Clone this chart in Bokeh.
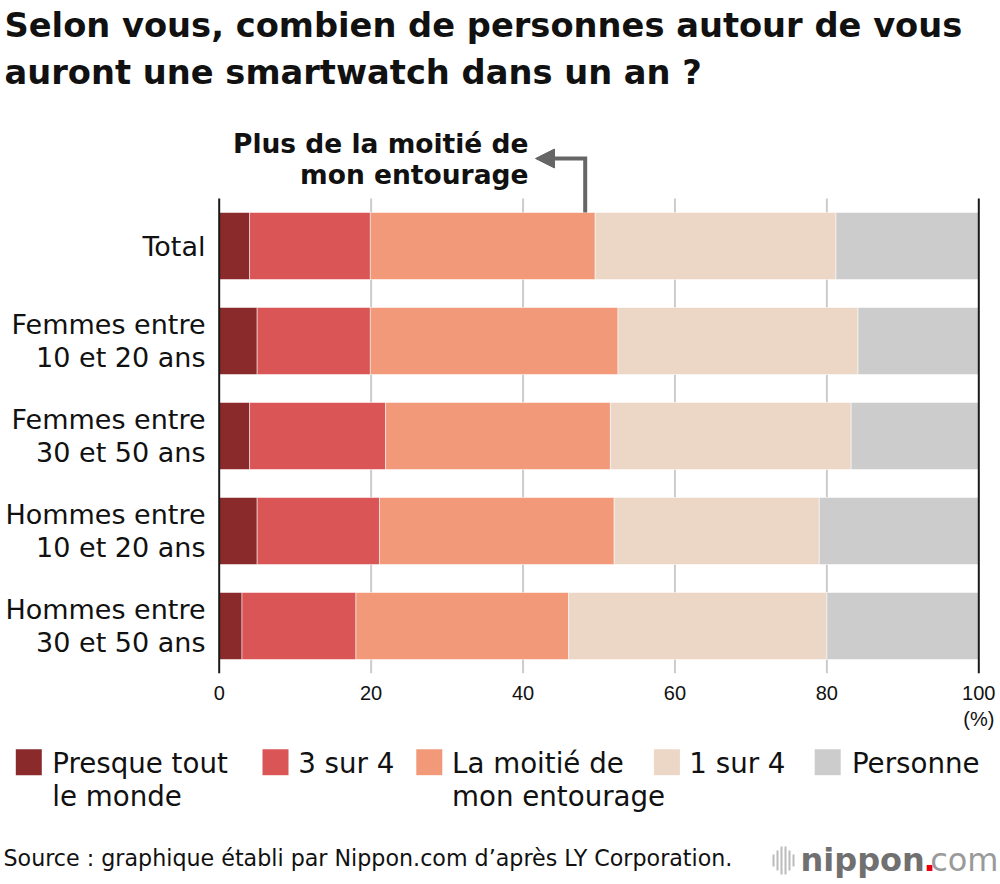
from bokeh.plotting import figure
from bokeh.models import Range1d, FixedTicker, ColumnDataSource
from bokeh.layouts import column
from bokeh.embed import file_html
from bokeh.resources import INLINE
from bokeh.core.properties import value

# ---------------- data ----------------
categories = ["Total",
              "Femmes entre\n10 et 20 ans",
              "Femmes entre\n30 et 50 ans",
              "Hommes entre\n10 et 20 ans",
              "Hommes entre\n30 et 50 ans"]
series_names = ["Presque tout\nle monde", "3 sur 4", "La moitié de\nmon entourage", "1 sur 4", "Personne"]
presque_tout = [4.0, 5.0, 4.0, 5.0, 3.0]
trois_sur_quatre = [15.9, 14.9, 17.9, 16.1, 15.0]
la_moitie = [29.6, 32.6, 29.6, 30.9, 28.0]
un_sur_quatre = [31.7, 31.6, 31.7, 27.0, 34.0]
personne = [18.8, 15.9, 16.8, 21.0, 20.0]
colors = ["#8B2A2B", "#D95556", "#F2997A", "#ECD6C6", "#CCCCCC"]
x_ticks = [0, 20, 40, 60, 80, 100]
x_tick_labels = ["0", "20", "40", "60", "80", "100\n(%)"]
title_lines = ["Selon vous, combien de personnes autour de vous",
               "auront une smartwatch dans un an ?"]
annotation_lines = ["Plus de la moitié de", "mon entourage"]
source_text = "Source : graphique établi par Nippon.com d\u2019après LY Corporation."

# ---------------- layout helpers (canvas pixel -> data) ----------------
FONT = "DejaVu Sans"
TICK_FONT = "Liberation Sans"
W = 1000
B = 62
FRAME_BOTTOM = 673
H1 = FRAME_BOTTOM + B
X0, XS = 218.7, 7.596
Y0, YS = 245.5, 95.0


def dx(px):
    return (px - X0) / XS


def dy(py):
    return (py - Y0) / YS


p = figure(width=W, height=H1,
           x_range=Range1d(dx(0), dx(W)), y_range=Range1d(dy(FRAME_BOTTOM), dy(0)),
           output_backend="svg", toolbar_location=None, title=None,
           y_axis_location=None, x_axis_location="below",
           min_border_left=0, min_border_right=0, min_border_top=0, min_border_bottom=B)
p.outline_line_color = None
p.xgrid.visible = False
p.ygrid.visible = False

ypos = list(range(len(categories)))
bar_h = 67 / 95.0

# grey gridlines
grid_x = [t for t in x_ticks if t not in (0, 100)]
p.segment(x0=grid_x, x1=grid_x, y0=[-0.5] * len(grid_x), y1=[4.5] * len(grid_x),
          line_color="#cccccc", line_width=2)

src = ColumnDataSource(dict(y=ypos, s0=presque_tout, s1=trois_sur_quatre, s2=la_moitie,
                            s3=un_sur_quatre, s4=personne))
p.hbar_stack(["s0", "s1", "s2", "s3", "s4"], y="y", height=bar_h, source=src,
             fill_color=colors, line_color="white", line_width=1, line_alpha=0.5)

# black lines at 0 and 100
p.segment(x0=[0, 100], x1=[0, 100], y0=[-0.5, -0.5], y1=[4.5, 4.5],
          line_color="#1a1a1a", line_width=2)

# category labels
p.text(x=[dx(205)] * len(categories), y=ypos, text=categories,
       text_align="right", text_baseline="middle", text_font=value(FONT),
       text_font_size="27px", text_line_height=1.08, text_color="#111111")

# title
p.text(x=[dx(4)] * 2, y=[dy(25), dy(72)], text=title_lines, text_align="left",
       text_baseline="middle", text_font=value(FONT), text_font_style="bold",
       text_font_size="33.7px", text_color="#111111")

# annotation
p.text(x=[dx(528)] * 2, y=[dy(142.5), dy(174)], text=annotation_lines, text_align="right",
       text_baseline="middle", text_font=value(FONT), text_font_style="bold",
       text_font_size="26.5px", text_color="#111111")
ax = dx(584.7)
top_bar = ypos[0] - bar_h / 2
p.line(x=[ax, ax, dx(552)], y=[top_bar, dy(158), dy(158)], line_color="#666666",
       line_width=4, line_join="miter")
p.patch(x=[dx(535), dx(554), dx(554)], y=[dy(158), dy(148.5), dy(167.5)],
        fill_color="#666666", line_color="#666666")

# x axis
xa = p.xaxis[0]
xa.ticker = FixedTicker(ticks=x_ticks)
xa.major_label_overrides = dict(zip(x_ticks, x_tick_labels))
xa.axis_line_color = None
xa.major_tick_line_color = None
xa.minor_tick_line_color = None
xa.major_tick_in = 0
xa.major_tick_out = 0
xa.major_label_standoff = 8
xa.major_label_text_font = TICK_FONT
xa.major_label_text_font_size = "20px"
xa.major_label_text_color = "#111111"

# ---------------- footer: legend, source, logo ----------------
H2 = 884 - H1
p2 = figure(width=W, height=H2, x_range=Range1d(0, W), y_range=Range1d(884, H1),
            output_backend="svg", toolbar_location=None, title=None,
            x_axis_location=None, y_axis_location=None,
            min_border_left=0, min_border_right=0, min_border_top=0, min_border_bottom=0)
p2.outline_line_color = None
p2.xgrid.visible = False
p2.ygrid.visible = False

leg_sq_x = [28.3, 275.0, 428.8, 666.4, 827.2]
leg_txt_x = [51.7, 297.7, 451.5, 688.8, 851.4]
p2.rect(x=leg_sq_x, y=[761.7] * 5, width=26, height=26, fill_color=colors, line_color=None)
lx, ly, lt = [], [], []
for i, name in enumerate(series_names):
    for k, line in enumerate(name.split("\n")):
        lx.append(leg_txt_x[i])
        ly.append(762.7 + 33.3 * k)
        lt.append(line)
p2.text(x=lx, y=ly, text=lt, text_align="left", text_baseline="middle",
        text_font=value(FONT), text_font_size="27.7px", text_color="#111111")

p2.text(x=[3], y=[857.5], text=[source_text], text_align="left", text_baseline="middle",
        text_font=value(FONT), text_font_size="22.2px", text_color="#111111")

# logo
icon_x = [773, 777, 781, 785, 789, 793]
icon_h = [12, 20, 28, 28, 20, 12]
p2.vbar(x=icon_x, width=2, bottom=[860 - h / 2 for h in icon_h], top=[860 + h / 2 for h in icon_h],
        fill_color="#bbbbbb", line_color=None)
p2.text(x=[800], y=[859], text=["nippon"], text_align="left", text_baseline="middle",
        text_font=value(FONT), text_font_style="bold", text_font_size="32px",
        text_color="#707070")
p2.text(x=[923], y=[859], text=["."], text_align="left", text_baseline="middle",
        text_font=value(FONT), text_font_style="bold", text_font_size="32px",
        text_color="#e60012")
p2.text(x=[998], y=[859], text=["com"], text_align="right", text_baseline="middle",
        text_font=value(FONT), text_font_size="32px", text_color="#9a9a9a")

layout = column(p, p2, spacing=0)
open("out.html", "w").write(file_html(layout, INLINE))
